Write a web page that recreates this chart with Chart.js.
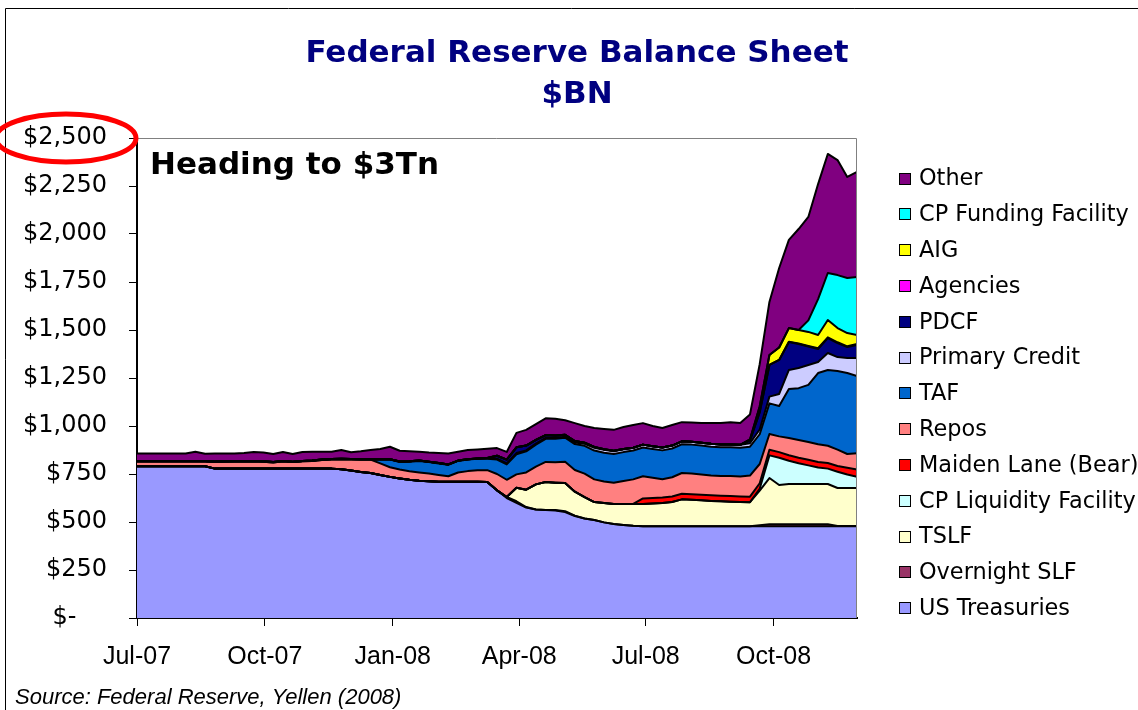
<!DOCTYPE html>
<html>
<head>
<meta charset="utf-8">
<title>Federal Reserve Balance Sheet</title>
<script src="https://cdn.jsdelivr.net/npm/chart.js@4.4.1/dist/chart.umd.min.js"></script>
<style>
    body { margin: 0; background: #fff; }
    #wrap { width: 1138px; height: 710px; }
</style>
</head>
<body>
<div id="wrap"><canvas id="fed-chart" width="1138" height="710"></canvas></div>
<script>
// texts
var titleLines = ['Federal Reserve Balance Sheet', '$BN'];
var noteText = 'Heading to $3Tn';
var sourceText = 'Source: Federal Reserve, Yellen (2008)';

// axis: weekly points, first week 4 Jul 2007, last week 3 Dec 2008
var firstWeek = '2007-07-04';
var tickDates = ['2007-07-04', '2007-10-04', '2008-01-04', '2008-04-04', '2008-07-04', '2008-10-04'];
var tickLabels = ['Jul-07', 'Oct-07', 'Jan-08', 'Apr-08', 'Jul-08', 'Oct-08'];

// series, $BN per week (bottom of the stack first)
var usTreasuries = [790, 790, 790, 790, 790, 790, 790, 790,
    778, 778, 778, 778, 778, 778, 778, 778, 778, 778, 778, 778, 778,
    775, 768, 760, 755, 745, 735, 727, 720, 715, 712, 710, 710, 710, 710, 709, 708,
    665, 625, 600, 575, 565, 563, 560, 552, 531, 518, 510, 498, 490, 485, 480,
    478, 478, 478, 478, 478, 478, 478, 478, 478, 478, 478, 478, 478, 478, 478, 478,
    478, 478, 478, 478, 478, 478, 478];
var overnightSLF = [0, 0, 0, 0, 0, 0, 0, 0, 0, 0, 0, 0, 0, 0, 0, 0, 0, 0, 0, 0,
    0, 0, 0, 0, 0, 0, 0, 0, 0, 0, 0, 0, 0, 0, 0, 0, 0, 0,
    5, 8, 3, 0, 0, 2, 4, 2,
    0, 0, 0, 0, 0, 0, 0, 0, 0, 0, 0, 0, 0, 0, 0, 0, 0, 0,
    5, 10, 10, 10, 10, 10, 10, 10, 1, 1, 1];
var tslf = [0, 0, 0, 0, 0, 0, 0, 0, 0, 0, 0, 0, 0, 0, 0, 0, 0, 0, 0, 0,
    0, 0, 0, 0, 0, 0, 0, 0, 0, 0, 0, 0, 0, 0, 0, 0, 0, 0, 0,
    70, 90, 131, 145, 143, 147, 125, 112, 94, 101, 104, 109, 114, 116, 118, 121,
    126, 140, 138, 135, 132, 130, 128, 126, 125,
    180, 241, 205, 210, 210, 210, 210, 210, 198, 198, 198];
var cpLiquidity = [0, 0, 0, 0, 0, 0, 0, 0, 0, 0, 0, 0, 0, 0, 0, 0, 0, 0, 0, 0,
    0, 0, 0, 0, 0, 0, 0, 0, 0, 0, 0, 0, 0, 0, 0, 0, 0, 0, 0, 0,
    0, 0, 0, 0, 0, 0, 0, 0, 0, 0, 0, 0, 0, 0, 0, 0, 0, 0, 0, 0, 0, 0, 0, 0,
    10, 118, 142, 121, 108, 97, 86, 80, 85, 70, 58];
var maidenLane = [0, 0, 0, 0, 0, 0, 0, 0, 0, 0, 0, 0, 0, 0, 0, 0, 0, 0, 0, 0,
    0, 0, 0, 0, 0, 0, 0, 0, 0, 0, 0, 0, 0, 0, 0, 0, 0, 0, 0, 0,
    0, 0, 0, 0, 0, 0, 0, 0, 0, 0, 0, 0,
    29, 29, 29, 29, 29, 29, 29, 29, 29, 29, 29, 29, 29, 29, 29, 29, 29, 29, 29, 29,
    30, 35, 38];
var repos = [27, 27, 27, 27, 27, 27, 27, 27,
    35, 36, 37, 37, 38, 36, 32, 38, 34, 38, 40, 45, 48, 52, 58, 65, 70, 60, 50, 46,
    44, 43, 40, 35, 28, 48, 55, 60, 62,
    85, 90, 70, 90, 92, 105, 106, 111, 113, 122, 118, 112, 110, 120, 128, 115, 105,
    95, 100, 108, 108, 106, 103, 102, 104, 104, 110,
    100, 82, 82, 90, 92, 93, 92, 90, 85, 72, 85];
var taf = [0, 0, 0, 0, 0, 0, 0, 0, 0, 0, 0, 0, 0, 0, 0, 0, 0, 0, 0, 0, 0, 0, 0, 0, 0,
    20, 40, 40, 50, 60, 60, 60, 60, 60, 60, 60, 60,
    75, 80, 105, 110, 115, 120, 122, 125, 135, 145,
    150, 150, 150, 150, 150, 150, 150, 150, 150, 150, 150, 150, 150, 150, 150, 150, 150,
    155, 160, 158, 255, 270, 297, 371, 395, 409, 422, 402];
var primaryCredit = [0, 0, 0, 0, 0, 0, 0, 0,
    2, 2, 2, 2, 2, 2, 2, 2, 2, 2, 2, 2, 2, 2, 2, 2, 2, 2, 2, 2, 2, 2, 2, 2, 2, 2, 2, 2,
    3, 5, 5, 6, 5, 5, 5, 5, 5, 8, 10,
    15, 15, 15, 15, 15, 15, 15, 15, 15, 15, 15, 15, 15, 15, 15, 15, 18,
    25, 35, 63, 99, 105, 104, 57, 88, 73, 78, 94];
var pdcf = [0, 0, 0, 0, 0, 0, 0, 0, 0, 0, 0, 0, 0, 0, 0, 0, 0, 0, 0, 0,
    0, 0, 0, 0, 0, 0, 0, 0, 0, 0, 0, 0, 0, 0, 0, 0, 0,
    15, 20, 30, 25, 20, 15, 12, 10, 8, 6, 4, 3, 2, 1,
    0, 0, 0, 0, 0, 0, 0, 0, 0, 0, 0, 0, 15,
    90, 165, 177, 145, 125, 96, 68, 78, 73, 57, 68];
var agencies = [0, 0, 0, 0, 0, 0, 0, 0, 0, 0, 0, 0, 0, 0, 0, 0, 0, 0, 0, 0,
    0, 0, 0, 0, 0, 0, 0, 0, 0, 0, 0, 0, 0, 0, 0, 0, 0, 0, 0, 0,
    0, 0, 0, 0, 0, 0, 0, 0, 0, 0, 0, 0, 0, 0, 0, 0, 0, 0, 0, 0,
    0, 0, 0, 0, 0, 0, 0,
    2, 3, 3, 4, 4, 4, 4, 5];
var aig = [0, 0, 0, 0, 0, 0, 0, 0, 0, 0, 0, 0, 0, 0, 0, 0, 0, 0, 0, 0,
    0, 0, 0, 0, 0, 0, 0, 0, 0, 0, 0, 0, 0, 0, 0, 0, 0, 0, 0, 0,
    0, 0, 0, 0, 0, 0, 0, 0, 0, 0, 0, 0, 0, 0, 0, 0, 0, 0, 0, 0, 0, 0, 0,
    5, 30, 52, 65, 71, 70, 73, 69, 90, 74, 69, 47];
var cpFunding = [0, 0, 0, 0, 0, 0, 0, 0, 0, 0, 0, 0, 0, 0, 0, 0, 0, 0, 0, 0,
    0, 0, 0, 0, 0, 0, 0, 0, 0, 0, 0, 0, 0, 0, 0, 0, 0, 0, 0, 0,
    0, 0, 0, 0, 0, 0, 0, 0, 0, 0, 0, 0, 0, 0, 0, 0, 0, 0, 0, 0,
    0, 0, 0, 0, 0, 0, 0, 0, 0,
    60, 187, 245, 276, 287, 302];
var other = [40, 40, 40, 40, 40, 40, 49, 38,
    42, 41, 40, 43, 47, 46, 42, 47, 40, 47, 46, 41, 38, 46, 35, 41,
    48, 53, 65, 56, 52, 46, 48, 53, 57, 46, 48, 47, 49,
    40, 40, 75, 82, 82, 87, 88, 76, 93, 87, 99, 106, 109, 115, 118, 112, 105,
    102, 107, 100, 100, 102, 108, 111, 116, 113, 130,
    220, 276, 414, 459, 526, 539, 599, 620, 599, 526, 547];

var seriesNames = ['US Treasuries', 'Overnight SLF', 'TSLF', 'CP Liquidity Facility',
    'Maiden Lane (Bear)', 'Repos', 'TAF', 'Primary Credit', 'PDCF', 'Agencies', 'AIG',
    'CP Funding Facility', 'Other'];
var seriesValues = [usTreasuries, overnightSLF, tslf, cpLiquidity, maidenLane, repos, taf,
    primaryCredit, pdcf, agencies, aig, cpFunding, other];
var seriesColors = ['#9999ff', '#993366', '#ffffcc', '#ccffff', '#ff0000', '#ff8080', '#0066cc',
    '#ccccff', '#000080', '#ff00ff', '#ffff00', '#00ffff', '#800080'];

// day offsets for points and ticks
var dayMs = 86400000;
var weekDays = usTreasuries.map(function (v, i) { return i * 7; });
var tickDays = tickDates.map(function (d) {
    return Math.round((Date.parse(d) - Date.parse(firstWeek)) / dayMs);
});

var datasets = seriesNames.map(function (name, i) {
    return {
        label: name,
        data: seriesValues[i].map(function (v, j) { return { x: weekDays[j], y: v }; }),
        backgroundColor: seriesColors[i],
        borderColor: '#000',
        borderWidth: 2,
        borderJoinStyle: 'round',
        pointRadius: 0,
        pointHoverRadius: 0,
        tension: 0,
        fill: i === 0 ? 'origin' : '-1'
    };
});

// titles, legend, note, frame
var extras = {
    id: 'extras',
    beforeDraw: function (chart) {
        var ctx = chart.ctx;
        ctx.save();
        ctx.fillStyle = '#fff';
        ctx.fillRect(0, 0, chart.width, chart.height);
        ctx.restore();
    },
    afterDraw: function (chart) {
        var ctx = chart.ctx;
        var area = chart.chartArea;
        ctx.save();

        // plot border (top, right)
        ctx.strokeStyle = '#808080';
        ctx.lineWidth = 1;
        ctx.beginPath();
        ctx.moveTo(area.left, area.top + 0.5);
        ctx.lineTo(area.right - 0.5, area.top + 0.5);
        ctx.lineTo(area.right - 0.5, area.bottom);
        ctx.stroke();

        // outer frame
        ctx.strokeStyle = '#000';
        ctx.beginPath();
        ctx.moveTo(5.5, 710);
        ctx.lineTo(5.5, 8.5);
        ctx.lineTo(1138, 8.5);
        ctx.stroke();

        // title
        ctx.fillStyle = '#000080';
        ctx.font = 'bold 31px "DejaVu Sans"';
        ctx.textAlign = 'center';
        ctx.textBaseline = 'alphabetic';
        ctx.fillText(titleLines[0], 577, 62);
        ctx.fillText(titleLines[1], 577, 103);

        // note
        ctx.fillStyle = '#000';
        ctx.font = 'bold 31px "DejaVu Sans"';
        ctx.textAlign = 'left';
        ctx.fillText(noteText, 150, 174);

        // source
        ctx.font = 'italic 22px "Liberation Sans"';
        ctx.fillText(sourceText, 15, 704);

        // legend, top of stack first
        ctx.font = '22.4px "DejaVu Sans"';
        ctx.textBaseline = 'middle';
        for (var k = 0; k < seriesNames.length; k++) {
            var i = seriesNames.length - 1 - k;
            var cy = 178.5 + k * 35.8;
            ctx.fillStyle = seriesColors[i];
            ctx.fillRect(899, Math.round(cy - 6), 12, 12);
            ctx.strokeStyle = '#000';
            ctx.lineWidth = 1;
            ctx.strokeRect(899.5, Math.round(cy - 6) + 0.5, 11, 11);
            ctx.fillStyle = '#000';
            ctx.fillText(seriesNames[i], 919, cy + 1);
        }

        // red ring round the top tick
        ctx.strokeStyle = '#ff0000';
        ctx.lineWidth = 5;
        ctx.beginPath();
        ctx.ellipse(66, 138, 70, 24, 0, 0, Math.PI * 2);
        ctx.stroke();

        ctx.restore();
    }
};

var fedCanvas = document.getElementById('fed-chart');
var fedChart = new Chart(fedCanvas, {
    type: 'line',
    data: { datasets: datasets },
    plugins: [extras],
    options: {
        responsive: false,
        animation: false,
        devicePixelRatio: 1,
        layout: { padding: { left: 0, right: 281, top: 138, bottom: 0 } },
        plugins: {
            legend: { display: false },
            title: { display: false },
            tooltip: { enabled: false },
            filler: { drawTime: 'beforeDatasetsDraw' }
        },
        scales: {
            x: {
                type: 'linear',
                min: 0,
                max: weekDays[weekDays.length - 1],
                afterBuildTicks: function (axis) {
                    axis.ticks = tickDays.map(function (d) { return { value: d }; });
                },
                afterFit: function (axis) { axis.height = 92; },
                ticks: {
                    autoSkip: false,
                    maxRotation: 0,
                    padding: 16,
                    color: '#000',
                    font: { family: 'Liberation Sans', size: 25 },
                    callback: function (value, index) { return tickLabels[index]; }
                },
                grid: { drawOnChartArea: false, tickLength: 8, color: '#000', lineWidth: 1 },
                border: { color: '#000', width: 2 }
            },
            y: {
                stacked: true,
                min: 0,
                max: 2500,
                afterFit: function (axis) { axis.width = 137; },
                ticks: {
                    stepSize: 250,
                    padding: 22,
                    color: '#000',
                    font: { family: 'DejaVu Sans', size: 24 },
                    callback: function (value) {
                        if (value === 0) {
                            return '$-    ';
                        }
                        return '$' + value.toLocaleString('en-US');
                    }
                },
                grid: { drawOnChartArea: false, tickLength: 8, color: '#000', lineWidth: 1 },
                border: { color: '#000', width: 2 }
            }
        }
    }
});
</script>
</body>
</html>
